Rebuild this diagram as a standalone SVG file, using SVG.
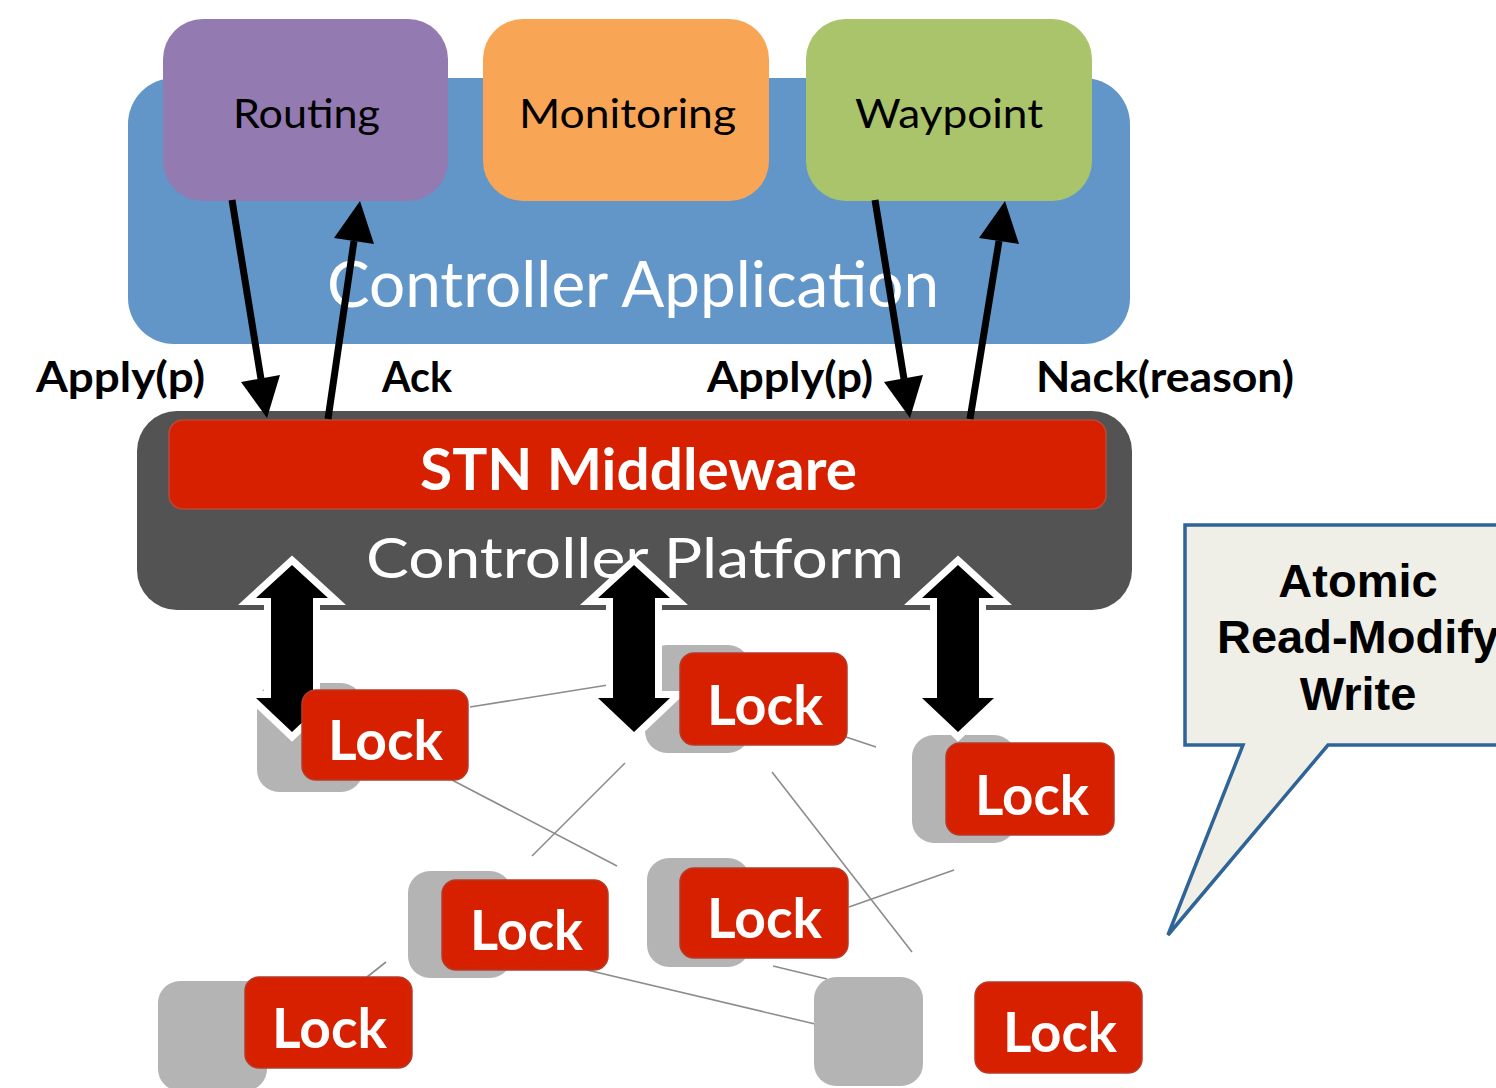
<svg xmlns="http://www.w3.org/2000/svg" width="1496" height="1088" viewBox="0 0 1496 1088">
  <style>
    .app { font-family: Lato, "Open Sans", "Liberation Sans", sans-serif; font-size: 40px; fill: #000; text-anchor: middle; }
    .big { font-family: Lato, "Open Sans", "Liberation Sans", sans-serif; fill: #fff; text-anchor: middle; }
    .lbl { font-family: Lato, "Open Sans", "Liberation Sans", sans-serif; font-weight: bold; font-size: 42px; fill: #000; text-anchor: middle; }
    .lock-txt { font-family: Lato, "Open Sans", "Liberation Sans", sans-serif; font-weight: bold; font-size: 56px; fill: #fff; text-anchor: middle; }
    .sw { fill: #b4b4b4; }
    .lock { fill: #d62000; stroke: #b63a28; stroke-width: 1.5; }
    .link { stroke: #8c8c8c; stroke-width: 1.6; fill: none; }
    .msg { stroke: #000; stroke-width: 7; fill: none; }
    .dbl { fill: #000; stroke: #fff; stroke-width: 14; stroke-linejoin: miter; paint-order: stroke; }
    .callout-txt { font-family: "Liberation Sans", Arial, sans-serif; font-weight: bold; font-size: 47px; fill: #000; text-anchor: middle; }
  </style>

  <!-- Controller application layer -->
  <g id="controller-application">
    <rect x="128" y="78" width="1002" height="266" rx="46" fill="#6296c8"/>
    <text class="big" x="633" y="307" font-size="63" textLength="612" lengthAdjust="spacingAndGlyphs">Controller Application</text>
  </g>
  <g id="routing">
    <rect x="163" y="19" width="285" height="182" rx="40" fill="#937ab1"/>
    <text class="app" x="306.5" y="128" textLength="147" lengthAdjust="spacingAndGlyphs">Routing</text>
  </g>
  <g id="monitoring">
    <rect x="483" y="19" width="286" height="182" rx="40" fill="#f8a655"/>
    <text class="app" x="627.5" y="128" textLength="217" lengthAdjust="spacingAndGlyphs">Monitoring</text>
  </g>
  <g id="waypoint">
    <rect x="806" y="19" width="286" height="182" rx="40" fill="#aac46c"/>
    <text class="app" x="949" y="128" textLength="188" lengthAdjust="spacingAndGlyphs">Waypoint</text>
  </g>

  <!-- Controller platform with STN middleware -->
  <g id="controller-platform">
    <rect x="137" y="411" width="995" height="199" rx="40" fill="#535353"/>
    <text class="big" x="635" y="578" font-size="57" textLength="538" lengthAdjust="spacingAndGlyphs">Controller Platform</text>
  </g>
  <g id="stn-middleware">
    <rect x="169" y="420" width="937" height="89" rx="14" fill="#d62000" stroke="#b84a3a" stroke-width="1.5"/>
    <text class="big" x="638.5" y="490" font-size="58" font-weight="bold" textLength="437" lengthAdjust="spacingAndGlyphs">STN Middleware</text>
  </g>

  <!-- Message labels -->
  <g id="labels">
    <text class="lbl" x="120.5" y="392" textLength="169" lengthAdjust="spacingAndGlyphs">Apply(p)</text>
    <text class="lbl" x="417" y="392" textLength="70" lengthAdjust="spacingAndGlyphs">Ack</text>
    <text class="lbl" x="790" y="392" textLength="166" lengthAdjust="spacingAndGlyphs">Apply(p)</text>
    <text class="lbl" x="1165" y="392" textLength="258" lengthAdjust="spacingAndGlyphs">Nack(reason)</text>
  </g>

  <!-- Links between switches -->
  <g id="links">
    <line class="link" x1="470" y1="707" x2="608" y2="685"/>
    <line class="link" x1="452" y1="780" x2="617" y2="866"/>
    <line class="link" x1="625" y1="763" x2="532" y2="856"/>
    <line class="link" x1="846" y1="737" x2="876" y2="747"/>
    <line class="link" x1="772" y1="772" x2="912" y2="952"/>
    <line class="link" x1="849" y1="907" x2="954" y2="870"/>
    <line class="link" x1="367" y1="977" x2="386" y2="962"/>
    <line class="link" x1="587" y1="970" x2="815" y2="1024"/>
    <line class="link" x1="773" y1="966" x2="827" y2="979"/>
  </g>

  <!-- Switch bodies (behind the platform arrows) -->
  <g id="switches">
    <rect class="sw" x="257" y="683" width="106" height="109" rx="22"/>
    <rect class="sw" x="645" y="645" width="105" height="108" rx="22"/>
    <rect class="sw" x="912" y="735" width="104" height="108" rx="22"/>
    <rect class="sw" x="408" y="871" width="104" height="107" rx="22"/>
    <rect class="sw" x="158" y="981" width="109" height="110" rx="22"/>
    <rect class="sw" x="647" y="858" width="103" height="109" rx="22"/>
    <rect class="sw" x="814" y="977" width="109" height="109" rx="22"/>
  </g>

  <!-- Connectors: application messages and platform/switch exchanges -->
  <g id="connectors">
    <line class="msg" x1="232" y1="200" x2="261" y2="379"/>
    <polygon points="267,418 241,382 280,375"/>
    <line class="msg" x1="328" y1="419" x2="354" y2="241"/>
    <polygon points="360,201 374,244 334,238"/>
    <line class="msg" x1="875" y1="200" x2="904" y2="379"/>
    <polygon points="910,418 884,382 923,375"/>
    <line class="msg" x1="970" y1="419" x2="999" y2="241"/>
    <polygon points="1005,201 1019,244 979,238"/>

    <polygon class="dbl" points="292,565 328,598 313,598 313,698 328,698 292,732 256,698 271,698 271,598 256,598"/>
    <polygon class="dbl" points="634,565 670,598 655,598 655,698 670,698 634,732 598,698 613,698 613,598 598,598"/>
    <polygon class="dbl" points="958,565 994,598 979,598 979,698 994,698 958,732 922,698 937,698 937,598 922,598"/>
  </g>

  <!-- Locks -->
  <g id="lock-1">
    <rect class="lock" x="302" y="690" width="166" height="90" rx="14"/>
    <text class="lock-txt" x="385.5" y="760" textLength="115" lengthAdjust="spacingAndGlyphs">Lock</text>
  </g>
  <g id="lock-2">
    <rect class="lock" x="680" y="653" width="167" height="92" rx="14"/>
    <text class="lock-txt" x="765" y="725" textLength="116" lengthAdjust="spacingAndGlyphs">Lock</text>
  </g>
  <g id="lock-3">
    <rect class="lock" x="946" y="743" width="168" height="92" rx="14"/>
    <text class="lock-txt" x="1032" y="815" textLength="114" lengthAdjust="spacingAndGlyphs">Lock</text>
  </g>
  <g id="lock-4">
    <rect class="lock" x="442" y="880" width="166" height="90" rx="14"/>
    <text class="lock-txt" x="526.5" y="950" textLength="113" lengthAdjust="spacingAndGlyphs">Lock</text>
  </g>
  <g id="lock-5">
    <rect class="lock" x="245" y="977" width="167" height="91" rx="14"/>
    <text class="lock-txt" x="329.5" y="1048" textLength="115" lengthAdjust="spacingAndGlyphs">Lock</text>
  </g>
  <g id="lock-6">
    <rect class="lock" x="680" y="868" width="168" height="90" rx="14"/>
    <text class="lock-txt" x="764.5" y="938" textLength="115" lengthAdjust="spacingAndGlyphs">Lock</text>
  </g>
  <g id="lock-7">
    <rect class="lock" x="975" y="982" width="167" height="91" rx="14"/>
    <text class="lock-txt" x="1060" y="1052" textLength="114" lengthAdjust="spacingAndGlyphs">Lock</text>
  </g>

  <!-- Speech-bubble note -->
  <g id="atomic-note">
    <path d="M1500,525 H1185 V745 H1243 L1168,935 L1328,745 H1500" fill="#efefe7" stroke="#2f6497" stroke-width="3.5" stroke-linejoin="miter"/>
    <text class="callout-txt" x="1358" y="597">Atomic</text>
    <text class="callout-txt" x="1358" y="653">Read-Modify</text>
    <text class="callout-txt" x="1358" y="710">Write</text>
  </g>
</svg>
